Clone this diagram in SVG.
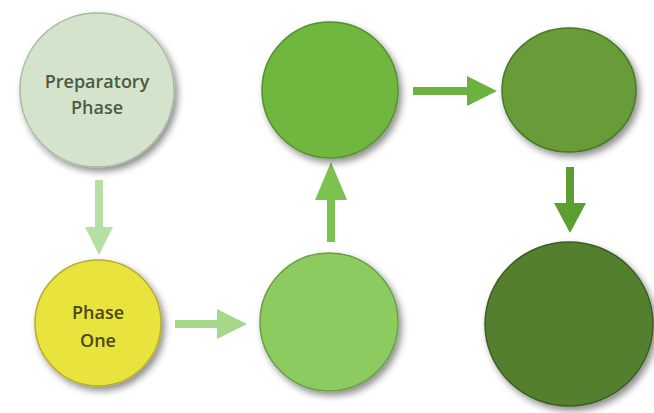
<svg xmlns="http://www.w3.org/2000/svg" width="654" height="413" viewBox="0 0 654 413">
<defs>
<filter id="sh" x="-20%" y="-20%" width="150%" height="150%">
<feDropShadow dx="3" dy="4" stdDeviation="3.5" flood-color="#000" flood-opacity="0.45"/>
</filter>
<style>
.lbl{font-family:"Open Sans","DejaVu Sans",sans-serif;font-size:18px;font-weight:600;text-anchor:middle;}
.node{filter:url(#sh);stroke-width:1.5;}
</style>
</defs>
<rect width="654" height="413" fill="#ffffff"/>
<g id="connectors">
<path d="M95,180 L103,180 L103,227 L113,227 L99,255 L85,227 L95,227 Z" fill="#b6dfa4"/>
<path d="M175,320 L217,320 L217,309 L247,324 L217,339 L217,328 L175,328 Z" fill="#a6d88c"/>
<path d="M327,242 L335,242 L335,200 L347,200 L331,162 L315,200 L327,200 Z" fill="#7cc24f"/>
<path d="M413,87 L467,87 L467,76 L497,91 L467,106 L467,95 L413,95 Z" fill="#6cb23e"/>
<path d="M566,167 L574,167 L574,203 L586,203 L570,233 L554,203 L566,203 Z" fill="#5c9e30"/>
</g>
<g id="preparatory">
<circle class="node" cx="97" cy="90" r="77" fill="#d4e3cc" stroke="#a9b99e"/>
<text class="lbl" x="97" y="88" fill="#4c5a40">Preparatory</text>
<text class="lbl" x="97" y="114" fill="#4c5a40">Phase</text>
</g>
<g id="phase-one">
<circle class="node" cx="98" cy="323" r="63" fill="#e9e33e" stroke="#b7ac2c"/>
<text class="lbl" x="98" y="319" fill="#4a4812">Phase</text>
<text class="lbl" x="98" y="347" fill="#4a4812">One</text>
</g>
<g id="phase-two">
<circle class="node" cx="329" cy="322" r="69" fill="#8ccb5f" stroke="#6a9e44"/>
</g>
<g id="phase-three">
<circle class="node" cx="330" cy="90" r="68" fill="#70b73f" stroke="#54902c"/>
</g>
<g id="phase-four">
<ellipse class="node" cx="569" cy="90" rx="67" ry="62" fill="#689c39" stroke="#4a7628"/>
</g>
<g id="phase-five">
<ellipse class="node" cx="569" cy="324" rx="84" ry="82" fill="#537f2f" stroke="#3c5e21"/>
</g>
</svg>
